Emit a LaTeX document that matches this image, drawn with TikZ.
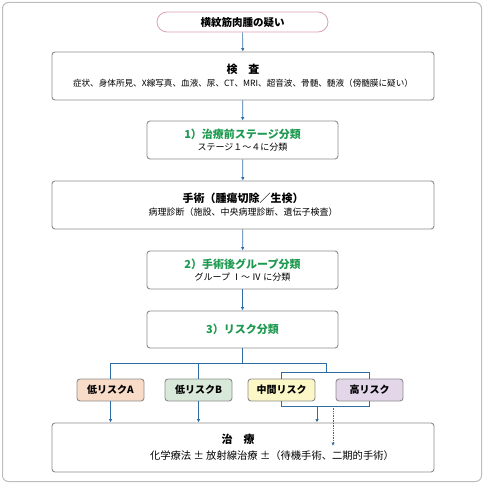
\documentclass[tikz,border=0pt]{standalone}
\usepackage{fontspec}
\setmainfont{Noto Sans CJK JP}
\usetikzlibrary{arrows.meta}
\definecolor{linkblue}{HTML}{2E6DA4}
\definecolor{boxgray}{HTML}{8C8C8C}
\definecolor{framegray}{HTML}{BDBDBD}
\definecolor{pillpink}{HTML}{DDA0B8}
\definecolor{titlegreen}{HTML}{1E9A50}
\definecolor{fillA}{HTML}{F8DCC8}
\definecolor{fillB}{HTML}{D9E9D9}
\definecolor{fillM}{HTML}{FCF7C6}
\definecolor{fillH}{HTML}{E2D6E8}
\tikzset{
  box/.style={draw=boxgray, line width=0.9pt, rounded corners=3pt, fill=white,
    align=center, inner sep=0pt, font=\fontsize{9}{12}\selectfont},
  widebox/.style={box, minimum width=382pt, minimum height=48pt},
  narrowbox/.style={box, minimum width=191pt, minimum height=38pt},
  riskbox/.style={box, minimum width=67pt, minimum height=22pt,
    font=\fontsize{10}{12}\selectfont\bfseries},
  link/.style={draw=linkblue, line width=0.7pt},
  arrowlink/.style={link, -{Latex[length=3.5pt,width=3.5pt]}},
}
\newcommand{\boxtitle}[1]{{\fontsize{11}{14}\selectfont\bfseries #1}}
\newcommand{\greentitle}[1]{{\fontsize{11}{14}\selectfont\bfseries\color{titlegreen}#1}}
\begin{document}
\begin{tikzpicture}[x=1pt, y=-1pt]
  \useasboundingbox (0,0) rectangle (484,484);
  \draw[framegray, line width=1pt, rounded corners=6pt] (2.5,2.5) rectangle (481.5,481.5);

  % flow boxes
  \node[box, draw=pillpink, line width=0.8pt, rounded corners=10pt, minimum width=171pt, minimum height=20pt,
    font=\fontsize{10.5}{12}\selectfont\bfseries] (suspect) at (242.5,22) {横紋筋肉腫の疑い};
  \node[widebox] (exam) at (243,76)
    {\boxtitle{検\quad 査}\\[1pt]{\fontsize{8.6}{12}\selectfont 症状、身体所見、X線写真、血液、尿、CT、MRI、超音波、骨髄、髄液（傍髄膜に疑い）}};
  \node[narrowbox] (stage) at (242.5,140) {\greentitle{1）治療前ステージ分類}\\ステージ１～４に分類};
  \node[widebox] (surgery) at (243,205)
    {\boxtitle{手術（腫瘍切除／生検）}\\[1pt]病理診断（施設、中央病理診断、遺伝子検査）};
  \node[narrowbox] (group) at (242.5,270) {\greentitle{2）手術後グループ分類}\\グループ Ⅰ～ Ⅳ に分類};
  \node[narrowbox, minimum height=37pt] (risk) at (242.5,329.5) {\greentitle{3）リスク分類}};

  % risk groups
  \node[riskbox, fill=fillA] (lowA) at (110.5,390) {低リスクA};
  \node[riskbox, fill=fillB] (lowB) at (198.5,390) {低リスクB};
  \node[riskbox, fill=fillM] (mid) at (281.5,390) {中間リスク};
  \node[riskbox, fill=fillH] (high) at (369.5,390) {高リスク};

  % treatment
  \node[widebox, minimum height=49pt] (treat) at (243,447.5) {};
  \node[font=\fontsize{11}{14}\selectfont\bfseries] (treattitle) at (238,439) {治\quad 療};
  \node[font=\fontsize{10.3}{12}\selectfont] (treatsub) at (272,456) {化学療法 ± 放射線治療 ±（待機手術、二期的手術）};

  % connectors
  \draw[arrowlink] (suspect) -- (exam);
  \draw[arrowlink] (exam) -- (stage);
  \draw[arrowlink] (stage) -- (surgery);
  \draw[arrowlink] (surgery) -- (group);
  \draw[arrowlink] (group) -- (risk);

  \coordinate (split) at (242.5,363);
  \coordinate (upjoin) at (326,372);
  \coordinate (lowjoin) at (317,406);
  \coordinate (dotstart) at (333,406);
  \coordinate (dotend) at (333,446);
  \draw[link] (risk) -- (split);
  \draw[link] (lowA.north) -- (lowA.north |- split) -- (upjoin |- split) -- (upjoin);
  \draw[link] (lowB.north) -- (lowB.north |- split);
  \draw[link] (mid.north) -- (mid.north |- upjoin) -- (high.north |- upjoin) -- (high.north);
  \draw[link] (mid.south) -- (mid.south |- lowjoin) -- (high.south |- lowjoin) -- (high.south);

  \draw[arrowlink] (lowA) -- (lowA |- treat.north);
  \draw[arrowlink] (lowB) -- (lowB |- treat.north);
  \draw[arrowlink] (lowjoin) -- (lowjoin |- treat.north);
  \draw[arrowlink, densely dotted] (dotstart) -- (dotend);
\end{tikzpicture}
\end{document}
